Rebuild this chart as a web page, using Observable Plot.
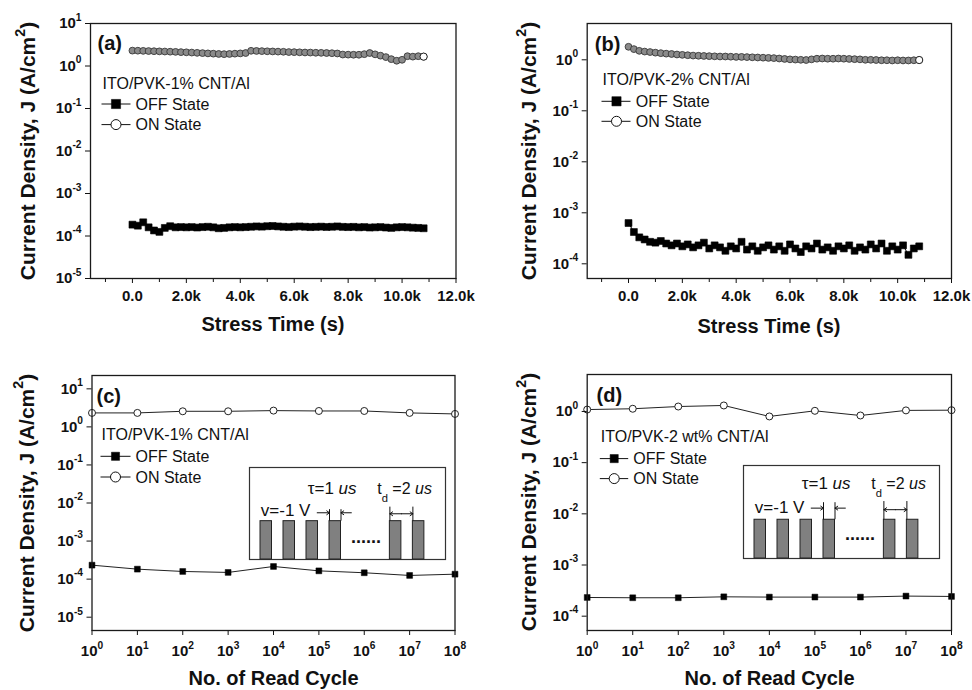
<!DOCTYPE html>
<html>
<head>
<meta charset="utf-8">
<script src="https://cdn.jsdelivr.net/npm/d3@7"></script>
<script src="https://cdn.jsdelivr.net/npm/@observablehq/plot@0.6"></script>
<style>
  body { margin: 0; background: #fff; }
  #wrap { position: relative; width: 972px; height: 690px; overflow: hidden; background: #fff; }
  #wrap svg { position: absolute; overflow: visible; }
</style>
</head>
<body>
<div id="wrap"></div>
<script>
// ---------------- data ----------------
const stressTime = [0,200,400,600,800,1000,1200,1400,1600,1800,2000,2200,2400,2600,2800,3000,3200,3400,3600,3800,4000,4200,4400,4600,4800,5000,5200,5400,5600,5800,6000,6200,6400,6600,6800,7000,7200,7400,7600,7800,8000,8200,8400,8600,8800,9000,9200,9400,9600,9800,10000,10200,10400,10600,10800];

const onA = [2.30,2.29,2.27,2.25,2.23,2.21,2.19,2.17,2.15,2.12,
             2.10,2.07,2.04,2.01,1.98,1.95,1.92,1.90,1.92,1.95,
             1.98,2.02,2.28,2.26,2.24,2.22,2.20,2.18,2.16,2.13,
             2.12,2.10,2.08,2.07,2.05,2.04,2.02,2.00,1.97,1.86,
             1.85,1.84,1.84,1.90,2.02,1.88,1.75,1.62,1.45,1.33,
             1.40,1.70,1.66,1.70,1.66];
const offA = [1.85e-4,1.75e-4,2.10e-4,1.60e-4,1.35e-4,1.25e-4,1.55e-4,1.70e-4,1.60e-4,1.62e-4,
              1.60e-4,1.62e-4,1.58e-4,1.62e-4,1.65e-4,1.60e-4,1.52e-4,1.55e-4,1.60e-4,1.62e-4,
              1.60e-4,1.62e-4,1.65e-4,1.68e-4,1.66e-4,1.70e-4,1.72e-4,1.68e-4,1.65e-4,1.62e-4,
              1.66e-4,1.68e-4,1.65e-4,1.62e-4,1.64e-4,1.66e-4,1.63e-4,1.65e-4,1.68e-4,1.64e-4,
              1.62e-4,1.64e-4,1.60e-4,1.62e-4,1.58e-4,1.60e-4,1.62e-4,1.58e-4,1.55e-4,1.60e-4,
              1.62e-4,1.60e-4,1.57e-4,1.55e-4,1.52e-4];
const onB = [1.80,1.62,1.50,1.45,1.42,1.38,1.35,1.32,1.30,1.27,
             1.25,1.23,1.21,1.20,1.19,1.18,1.17,1.16,1.16,1.15,
             1.14,1.14,1.13,1.12,1.11,1.10,1.09,1.08,1.06,1.04,
             1.02,1.01,1.00,0.99,1.02,1.05,1.06,1.05,1.05,1.06,
             1.05,1.04,1.03,1.02,1.00,1.00,0.99,0.98,0.98,0.97,
             0.98,0.97,0.97,0.98,0.99];
const offB = [6.3e-4,4.2e-4,3.3e-4,3.0e-4,2.7e-4,2.6e-4,2.8e-4,2.5e-4,2.3e-4,2.5e-4,
              2.2e-4,2.4e-4,2.1e-4,2.3e-4,2.6e-4,2.0e-4,2.3e-4,2.1e-4,1.8e-4,2.2e-4,
              2.0e-4,2.7e-4,1.9e-4,2.2e-4,1.8e-4,2.1e-4,2.3e-4,1.9e-4,2.2e-4,1.8e-4,
              2.4e-4,2.0e-4,1.7e-4,2.2e-4,2.0e-4,2.5e-4,1.9e-4,2.1e-4,1.8e-4,2.2e-4,
              2.0e-4,2.3e-4,1.8e-4,2.1e-4,1.9e-4,2.4e-4,2.0e-4,2.5e-4,1.8e-4,2.2e-4,
              1.9e-4,2.3e-4,1.5e-4,2.0e-4,2.2e-4];

const readCycle = [1, 10, 100, 1e3, 1e4, 1e5, 1e6, 1e7, 1e8];
const onC  = [2.33, 2.33, 2.57, 2.57, 2.68, 2.62, 2.62, 2.33, 2.19];
const offC = [2.33e-4, 1.83e-4, 1.59e-4, 1.50e-4, 2.15e-4, 1.65e-4, 1.47e-4, 1.25e-4, 1.35e-4];
const onD  = [1.09, 1.13, 1.25, 1.31, 0.80, 1.03, 0.835, 1.05, 1.06];
const offD = [2.32e-4, 2.29e-4, 2.29e-4, 2.39e-4, 2.36e-4, 2.36e-4, 2.36e-4, 2.47e-4, 2.43e-4];

const yTicksWide = [1e-5, 1e-4, 1e-3, 1e-2, 1e-1, 1, 10];
const yTicksNarrow = [1e-4, 1e-3, 1e-2, 1e-1, 1];
const stressTicks = [0, 2000, 4000, 6000, 8000, 10000, 12000];
const stressMinorTicks = [-1000, 1000, 3000, 5000, 7000, 9000, 11000];
const cycleTicks = [1, 10, 100, 1e3, 1e4, 1e5, 1e6, 1e7, 1e8];

const panelTags = ["(a)", "(b)", "(c)", "(d)"];
const deviceLabels = ["ITO/PVK-1% CNT/Al", "ITO/PVK-2% CNT/Al", "ITO/PVK-1% CNT/Al", "ITO/PVK-2 wt% CNT/Al"];
const seriesNames = ["OFF State", "ON State"];
const xTitles = ["Stress Time (s)", "No. of Read Cycle"];
const yTitle = "Current Density, J (A/cm^{2})";

const pulseStart = [0, 2, 4, 6, 11.25, 13.25];
const pulseWidth = 1;
const pulseAmp = 1;
const insetTexts = ["v=-1 V", "τ=1 ~{us}", "t_{d} =2 ~{us}", "......"];

// ---------------- helpers ----------------
const FONT = '"Liberation Sans", Arial, Helvetica, sans-serif';
const wrap = document.getElementById("wrap");
const pow10 = d => `10^{${Math.round(Math.log10(d))}}`;
const kFormat = d => d === 0 ? "0.0" : (d / 1000).toFixed(1) + "k";

function richText(root) {
  root.querySelectorAll("text").forEach(node => {
    const s = node.textContent;
    if (!/[\^_~]\{/.test(s)) return;
    const fs = parseFloat(getComputedStyle(node).fontSize) || 14;
    const parts = s.split(/([\^_~]\{[^}]*\})/).filter(p => p.length);
    while (node.firstChild) node.removeChild(node.firstChild);
    let shift = 0;
    for (const p of parts) {
      const ts = document.createElementNS("http://www.w3.org/2000/svg", "tspan");
      let target = 0, txt = p;
      if (p.startsWith("^{")) { target = -0.5 * fs; txt = p.slice(2, -1); ts.setAttribute("font-size", (0.68 * fs).toFixed(1)); }
      else if (p.startsWith("_{")) { target = 0.5 * fs; txt = p.slice(2, -1); ts.setAttribute("font-size", (0.7 * fs).toFixed(1)); }
      else if (p.startsWith("~{")) { txt = p.slice(2, -1); ts.setAttribute("font-style", "italic"); }
      if (target !== shift) ts.setAttribute("dy", (target - shift).toFixed(2));
      shift = target;
      ts.textContent = txt;
      node.appendChild(ts);
    }
  });
}

function place(el, left, top) {
  el.style.left = left + "px";
  el.style.top = top + "px";
  wrap.appendChild(el);
  richText(el);
}

const mainStyle = {fontFamily: FONT, fontSize: "15px", fontWeight: "bold", color: "#111", background: "transparent", overflow: "visible"};

function stressPanel(rows, cfg) {
  return Plot.plot({
    width: 486, height: 345,
    marginLeft: cfg.ml, marginRight: cfg.mr, marginTop: cfg.mt, marginBottom: cfg.mb,
    style: mainStyle,
    x: {domain: cfg.xDomain, label: null},
    y: {type: "log", domain: cfg.yDomain, label: null},
    marks: [
      Plot.line(rows, {x: "t", y: "off", stroke: "#000", strokeWidth: 1}),
      Plot.dot(rows, {x: "t", y: "off", symbol: "square", r: 3.9, fill: "#000", stroke: "#000", strokeWidth: 0.6}),
      Plot.line(rows, {x: "t", y: "on", stroke: "#333", strokeWidth: 1}),
      Plot.dot(rows, {x: "t", y: "on", r: 3.4, fill: "#8a8a8a", stroke: "#383838", strokeWidth: 0.9}),
      Plot.dot(rows.slice(-1), {x: "t", y: "on", r: 3.6, fill: "#fff", stroke: "#222", strokeWidth: 1}),
      Plot.axisY(cfg.yTicks, {tickSize: 5, tickPadding: 4, tickFormat: pow10, label: null}),
      Plot.axisX(stressTicks, {tickSize: 5, tickPadding: 7, tickFormat: kFormat, label: null}),
      Plot.axisX(stressMinorTicks, {tickSize: 4, tickFormat: () => "", label: null}),
      Plot.frame({stroke: "#1a1a1a", strokeWidth: 1.3})
    ]
  });
}

function cyclePanel(rows, cfg) {
  return Plot.plot({
    width: 486, height: 345,
    marginLeft: cfg.ml, marginRight: cfg.mr, marginTop: cfg.mt, marginBottom: cfg.mb,
    style: mainStyle,
    x: {type: "log", domain: [1, 1e8], label: null},
    y: {type: "log", domain: cfg.yDomain, label: null},
    marks: [
      Plot.line(rows, {x: "n", y: "off", stroke: "#222", strokeWidth: 1}),
      Plot.dot(rows, {x: "n", y: "off", symbol: "square", r: 3.3, fill: "#000", stroke: "#000", strokeWidth: 0.5}),
      Plot.line(rows, {x: "n", y: "on", stroke: "#222", strokeWidth: 1}),
      Plot.dot(rows, {x: "n", y: "on", r: 3.5, fill: "#fff", stroke: "#222", strokeWidth: 1}),
      Plot.axisY(cfg.yTicks, {tickSize: 5, tickPadding: 4, tickFormat: pow10, label: null}),
      Plot.axisX(cycleTicks, {tickSize: 5, tickPadding: 10, tickFormat: pow10, label: null}),
      Plot.frame({stroke: "#1a1a1a", strokeWidth: 1.3})
    ]
  });
}

function overlay(idx, cfg) {
  const rows = seriesNames.map((name, i) => ({name, top: cfg.rowTop[i], cy: cfg.rowTop[i] + 5.8}));
  return Plot.plot({
    width: 486, height: 345, margin: 0,
    style: {fontFamily: FONT, color: "#111", background: "transparent", overflow: "visible"},
    x: {domain: [0, 486], range: [0, 486], axis: null},
    y: {domain: [0, 345], range: [0, 345], axis: null},
    marks: [
      Plot.text([panelTags[idx]], {x: cfg.tag[0], y: cfg.tag[1], text: d => d, lineAnchor: "top", textAnchor: "start", fontSize: 20, fontWeight: "bold", fill: "#111"}),
      Plot.text([deviceLabels[idx]], {x: cfg.title[0], y: cfg.title[1], text: d => d, lineAnchor: "top", textAnchor: "start", fontSize: 16, fill: "#111"}),
      Plot.link(rows, {x1: cfg.line[0], x2: cfg.line[1], y1: "cy", y2: "cy", stroke: "#111", strokeWidth: 1}),
      Plot.dot(rows.slice(0, 1), {x: cfg.mark, y: "cy", symbol: "square", r: cfg.sq, fill: "#000", stroke: "#000", strokeWidth: 0.5}),
      Plot.dot(rows.slice(1), {x: cfg.mark, y: "cy", r: 5, fill: "#fff", stroke: "#111", strokeWidth: 1}),
      Plot.text(rows, {x: cfg.textX, y: "top", text: "name", lineAnchor: "top", textAnchor: "start", fontSize: 16, fill: "#111"}),
      Plot.text([xTitles[idx < 2 ? 0 : 1]], {x: cfg.xlab[0], y: cfg.xlab[1], text: d => d, lineAnchor: "top", textAnchor: "middle", fontSize: 20, fontWeight: "bold", fill: "#111"}),
      Plot.text([yTitle], {x: cfg.ylab[0], y: cfg.ylab[1], text: d => d, rotate: -90, lineAnchor: "top", textAnchor: "middle", fontSize: 21, fontWeight: "bold", fill: "#111"})
    ]
  });
}

function inset(w, h, a) {
  const xMax = (w - 11) / 11.5;
  return Plot.plot({
    width: w, height: h, margin: 0,
    style: {fontFamily: FONT, color: "#111", background: "transparent", overflow: "visible"},
    x: {domain: [-11 / 11.5, xMax], axis: null},
    y: {domain: [0, 2.4], axis: null},
    marks: [
      Plot.frame({fill: "#fff", stroke: "#333", strokeWidth: 1.2}),
      Plot.rect(pulseStart, {x1: d => d, x2: d => d + pulseWidth, y1: 0, y2: pulseAmp, fill: "#808080", stroke: "#222", strokeWidth: 1}),
      Plot.text([insetTexts[0]], {x: 0.03, y: a.vY, text: d => d, lineAnchor: "bottom", textAnchor: "start", fontSize: 17, fill: "#111"}),
      Plot.text([insetTexts[1]], {x: 4.11, y: a.tauY, text: d => d, lineAnchor: "bottom", textAnchor: "start", fontSize: 17, fill: "#111"}),
      Plot.text([insetTexts[2]], {x: 10.15, y: a.tauY, text: d => d, lineAnchor: "bottom", textAnchor: "start", fontSize: 16, fill: "#111"}),
      Plot.text([insetTexts[3]], {x: 9.17, y: a.dotsY, text: d => d, lineAnchor: "bottom", textAnchor: "middle", fontSize: 18, fontWeight: "bold", fill: "#111"}),
      Plot.ruleX([pulseStart[3], pulseStart[3] + pulseWidth], {y1: pulseAmp, y2: a.vTop, stroke: "#111", strokeWidth: 1}),
      Plot.ruleX([pulseStart[4], pulseStart[5]], {y1: pulseAmp, y2: a.tdTop, stroke: "#111", strokeWidth: 1}),
      Plot.arrow([{x1: pulseStart[3] - 1.07, x2: pulseStart[3]}, {x1: pulseStart[3] + pulseWidth + 0.9, x2: pulseStart[3] + pulseWidth}],
        {x1: "x1", x2: "x2", y1: a.arrY, y2: a.arrY, stroke: "#111", strokeWidth: 1, headLength: 5, headAngle: 70}),
      Plot.arrow([{x1: (pulseStart[4] + pulseStart[5]) / 2, x2: pulseStart[4]}, {x1: (pulseStart[4] + pulseStart[5]) / 2, x2: pulseStart[5]}],
        {x1: "x1", x2: "x2", y1: a.tdArrY, y2: a.tdArrY, stroke: "#111", strokeWidth: 1, headLength: 5, headAngle: 70})
    ]
  });
}

// ---------------- build ----------------
const rowsA = stressTime.map((t, i) => ({t, on: onA[i], off: offA[i]}));
const rowsB = stressTime.map((t, i) => ({t, on: onB[i], off: offB[i]}));
const rowsC = readCycle.map((n, i) => ({n, on: onC[i], off: offC[i]}));
const rowsD = readCycle.map((n, i) => ({n, on: onD[i], off: offD[i]}));

place(stressPanel(rowsA, {ml: 90, mr: 30.5, mt: 23, mb: 67, xDomain: [-1555, 12000], yDomain: [1e-5, 10], yTicks: yTicksWide}), 0, 0);
place(stressPanel(rowsB, {ml: 100.7, mr: 21, mt: 23, mb: 67, xDomain: [-1535, 12000], yDomain: [5.15e-5, 5.15], yTicks: yTicksNarrow}), 486, 0);
place(cyclePanel(rowsC, {ml: 91.5, mr: 31.5, mt: 30, mb: 60, yDomain: [4.47e-6, 22.4], yTicks: yTicksWide}), 0, 345);
place(cyclePanel(rowsD, {ml: 100.7, mr: 21, mt: 29, mb: 60, yDomain: [5.25e-5, 5.28], yTicks: yTicksNarrow}), 486, 345);

place(inset(196, 92, {vY: 1.123, tauY: 1.697, dotsY: 0.426, vTop: 1.30, tdTop: 1.366, arrY: 1.219, tdArrY: 1.193}), 249, 467);
place(inset(196, 93, {vY: 1.18, tauY: 1.795, dotsY: 0.47, vTop: 1.44, tdTop: 1.47, arrY: 1.30, tdArrY: 1.26}), 743, 465);

place(overlay(0, {tag: [97, 35], title: [102, 77.3], rowTop: [97.7, 118.3], line: [101, 130], mark: 115.5, sq: 5.2, textX: 135, xlab: [272.5, 316.7], ylab: [20, 150.5]}), 0, 0);
place(overlay(1, {tag: [108.3, 36], title: [116, 73.3], rowTop: [95, 115], line: [115, 144], mark: 130, sq: 5.2, textX: 149.3, xlab: [282.5, 318.3], ylab: [35, 150.5]}), 486, 0);
place(overlay(2, {tag: [96, 43.3], title: [101, 83.3], rowTop: [105, 125.7], line: [100, 130], mark: 115, sq: 4.6, textX: 135, xlab: [273, 325], ylab: [18.5, 157.5]}), 0, 345);
place(overlay(3, {tag: [110, 42.3], title: [114.3, 85], rowTop: [107.3, 127.3], line: [113.3, 141.7], mark: 127.7, sq: 4.6, textX: 146.7, xlab: [283, 325], ylab: [35, 156.5]}), 486, 345);
</script>
</body>
</html>
